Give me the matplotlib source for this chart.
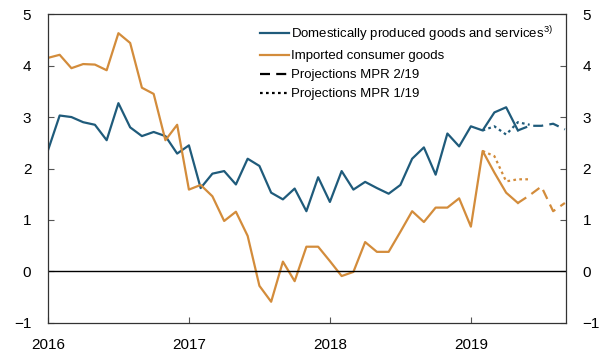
"""
Domestic vs imported CPI components, with MPR 2/19 and 1/19 projections.
"""

import matplotlib.pyplot as plt
from matplotlib.lines import Line2D

plt.rcParams["font.family"] = ["Liberation Sans", "DejaVu Sans"]
plt.rcParams["mathtext.fontset"] = "custom"
plt.rcParams["mathtext.rm"] = "Liberation Sans"
plt.rcParams["mathtext.it"] = "Liberation Sans:italic"

BLUE = "#1f5b7b"
ORANGE = "#d38c3b"

# monthly observations, Jan 2016 - May 2019
start_year = 2016
domestic = [2.35, 3.03, 3.00, 2.90, 2.85, 2.55, 3.27, 2.80, 2.63, 2.71, 2.63, 2.29,
            2.45, 1.62, 1.90, 1.95, 1.69, 2.19, 2.05, 1.53, 1.40, 1.61, 1.17, 1.83,
            1.35, 1.95, 1.59, 1.74, 1.62, 1.51, 1.68, 2.19, 2.41, 1.88, 2.68, 2.43,
            2.82, 2.74, 3.09, 3.19, 2.74]
imported = [4.15, 4.21, 3.95, 4.03, 4.02, 3.91, 4.63, 4.44, 3.57, 3.45, 2.55, 2.85,
            1.59, 1.68, 1.46, 0.98, 1.16, 0.69, -0.28, -0.59, 0.19, -0.19, 0.48, 0.48,
            0.20, -0.09, -0.01, 0.57, 0.38, 0.38, 0.77, 1.17, 0.96, 1.24, 1.24, 1.42,
            0.87, 2.34, 1.92, 1.53, 1.33]

# projections MPR 2/19 (May - Sep 2019)
mpr2_start = 40
mpr2_domestic = [2.74, 2.83, 2.83, 2.87, 2.76]
mpr2_imported = [1.33, 1.48, 1.65, 1.17, 1.33]

# projections MPR 1/19 (Feb - Jun 2019)
mpr1_start = 37
mpr1_domestic = [2.74, 2.82, 2.66, 2.90, 2.85]
mpr1_imported = [2.34, 2.24, 1.75, 1.79, 1.79]

years = [2016, 2017, 2018, 2019]


def to_x(first, n):
    return [start_year + (first + i) / 12 for i in range(n)]


fig = plt.figure(figsize=(5.99, 3.54), dpi=100)
ax = fig.add_axes([0.080, 0.088, 0.865, 0.872])

lw = 1.6
dash = (4.5, 2.8)
dot = (1.2, 1.5)

x_obs = to_x(0, len(domestic))
ax.plot(x_obs, domestic, color=BLUE, lw=lw)
ax.plot(x_obs, imported, color=ORANGE, lw=lw)

x2 = to_x(mpr2_start, len(mpr2_domestic))
ax.plot(x2, mpr2_domestic, color=BLUE, lw=lw, dashes=dash)
ax.plot(x2, mpr2_imported, color=ORANGE, lw=lw, dashes=dash)

x1 = to_x(mpr1_start, len(mpr1_domestic))
ax.plot(x1, mpr1_domestic, color=BLUE, lw=lw, dashes=dot)
ax.plot(x1, mpr1_imported, color=ORANGE, lw=lw, dashes=dot)

ax.axhline(0, color="black", lw=1.0)

ax.set_xlim(2016, 2016 + 44.1 / 12)
ax.set_ylim(-1, 5)
ax.set_xticks(years)
ax.set_xticklabels([str(y) for y in years])
ax.set_yticks(range(-1, 6))
ax.set_yticklabels([str(v).replace("-", "\u2212") for v in range(-1, 6)])
ax.tick_params(axis="both", direction="in", length=4, width=0.8,
               labelsize=11, color="#555555")
ax.tick_params(axis="y", left=True, right=True, labelleft=True,
               labelright=True, pad=12)
ax.tick_params(axis="x", pad=11)
for s in ax.spines.values():
    s.set_linewidth(0.9)
    s.set_color("#333333")

handles = [
    Line2D([], [], color=BLUE, lw=lw),
    Line2D([], [], color=ORANGE, lw=lw),
    Line2D([], [], color="black", lw=lw, dashes=dash),
    Line2D([], [], color="black", lw=lw, dashes=dot),
]
labels = [
    r"Domestically produced goods and services$^{3)}$",
    "Imported consumer goods",
    "Projections MPR 2/19",
    "Projections MPR 1/19",
]
ax.legend(handles, labels, loc="upper left", bbox_to_anchor=(0.41, 0.968),
          frameon=False, fontsize=9.5, handlelength=2.2, handletextpad=0.15,
          borderpad=0, borderaxespad=0, labelspacing=0.5)

fig.savefig("out.png", dpi=100)
